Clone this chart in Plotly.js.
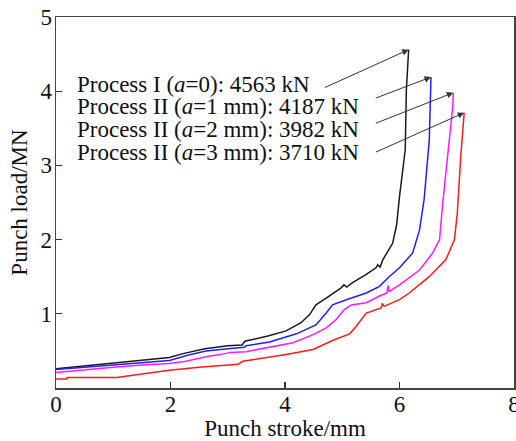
<!DOCTYPE html>
<html>
<head>
<meta charset="utf-8">
<script src="https://cdn.plot.ly/plotly-3.0.1.min.js"></script>
<style>html,body{margin:0;padding:0;background:#fff;}#chart{width:516px;height:441px;}</style>
</head>
<body>
<div id="chart"></div>
<script>
// Process I (a=0)
const strokeA0 = [0, 0.5, 1.0, 1.5, 1.98, 2.2, 2.6, 3.0, 3.25, 3.30, 3.41, 3.70, 4.02, 4.28, 4.43, 4.54, 4.72, 4.98, 5.03, 5.08, 5.18, 5.42, 5.59, 5.62, 5.66, 5.71, 5.88, 5.95, 6.00, 6.06, 6.10, 6.12, 6.16];
const loadA0   = [0.26, 0.30, 0.34, 0.38, 0.41, 0.46, 0.53, 0.57, 0.58, 0.63, 0.65, 0.70, 0.77, 0.88, 0.99, 1.12, 1.21, 1.35, 1.39, 1.36, 1.42, 1.53, 1.62, 1.66, 1.63, 1.73, 1.95, 2.20, 2.58, 2.99, 3.21, 4.02, 4.56];
// Process II (a=1 mm)
const strokeA1 = [0, 0.5, 1.0, 1.5, 1.98, 2.3, 2.62, 3.0, 3.29, 3.32, 3.73, 4.20, 4.54, 4.72, 4.83, 5.07, 5.42, 5.65, 5.82, 6.00, 6.23, 6.35, 6.43, 6.52, 6.55, 6.55];
const loadA1   = [0.25, 0.28, 0.32, 0.35, 0.37, 0.44, 0.50, 0.53, 0.55, 0.57, 0.62, 0.73, 0.85, 1.01, 1.12, 1.19, 1.28, 1.37, 1.50, 1.62, 1.82, 2.13, 2.54, 3.34, 4.02, 4.19];
// Process II (a=2 mm)
const strokeA2 = [0, 0.5, 1.0, 1.5, 1.98, 2.27, 2.62, 2.86, 3.05, 3.32, 3.73, 4.14, 4.49, 4.72, 4.89, 5.04, 5.16, 5.42, 5.65, 5.78, 5.80, 5.82, 6.00, 6.35, 6.58, 6.70, 6.75, 6.84, 6.93, 6.94];
const loadA2   = [0.21, 0.25, 0.28, 0.31, 0.33, 0.36, 0.42, 0.45, 0.48, 0.49, 0.55, 0.61, 0.72, 0.81, 0.92, 1.06, 1.12, 1.15, 1.24, 1.28, 1.38, 1.30, 1.39, 1.59, 1.82, 2.00, 2.45, 3.12, 3.79, 3.98];
// Process II (a=3 mm)
const strokeA3 = [0, 0.19, 0.20, 1.06, 1.5, 1.98, 2.5, 3.18, 3.26, 3.61, 4.02, 4.49, 4.83, 5.13, 5.24, 5.42, 5.68, 5.70, 5.73, 6.00, 6.17, 6.52, 6.81, 6.96, 7.01, 7.07, 7.13, 7.13];
const loadA3   = [0.12, 0.12, 0.14, 0.14, 0.19, 0.24, 0.28, 0.32, 0.36, 0.40, 0.45, 0.52, 0.64, 0.73, 0.83, 1.01, 1.08, 1.14, 1.10, 1.19, 1.28, 1.50, 1.73, 2.00, 2.36, 3.12, 3.66, 3.71];

const labels = [
  'Process I (<i>a</i>=0): 4563 kN',
  'Process II (<i>a</i>=1 mm): 4187 kN',
  'Process II (<i>a</i>=2 mm): 3982 kN',
  'Process II (<i>a</i>=3 mm): 3710 kN'
];
const xTicks = [0, 2, 4, 6, 8];
const yTicks = [1, 2, 3, 4, 5];

const colors = ['#1a1a1a', '#1f1fff', '#ff1aff', '#ff1a1a'];
const series = [[strokeA0, loadA0], [strokeA1, loadA1], [strokeA2, loadA2], [strokeA3, loadA3]];

const traces = series.map((s, i) => ({
  x: s[0], y: s[1], type: 'scatter', mode: 'lines',
  line: {color: colors[i], width: 1.5}, showlegend: false, hoverinfo: 'skip'
}));

const font = {family: '"Liberation Serif", "Times New Roman", serif', color: '#111'};
const textY = [4.085, 3.79, 3.48, 3.18];
const arrowTail = [[4.67, 4.04], [5.56, 3.90], [5.56, 3.56], [5.56, 3.17]];
const annotations = [];
labels.forEach((t, i) => {
  annotations.push({
    x: 0.34, y: textY[i], xref: 'x', yref: 'y', xanchor: 'left', yanchor: 'middle',
    text: t, showarrow: false, font: Object.assign({size: 23}, font)
  });
  const s = series[i];
  const n = s[0].length - 1;
  annotations.push({
    x: s[0][n], y: s[1][n], xref: 'x', yref: 'y',
    ax: arrowTail[i][0], ay: arrowTail[i][1], axref: 'x', ayref: 'y',
    text: '', showarrow: true, arrowhead: 2, arrowsize: 1.3, arrowwidth: 1,
    arrowcolor: '#333', standoff: 0, startstandoff: 0
  });
});

const layout = {
  width: 516, height: 441,
  margin: {l: 56, r: 2, t: 17, b: 53},
  paper_bgcolor: '#fff', plot_bgcolor: '#fff',
  font: Object.assign({size: 23}, font),
  xaxis: {
    range: [0, 8], tickvals: xTicks, ticks: 'inside', ticklen: 6, tickwidth: 1.2,
    tickcolor: '#333', showline: true, linecolor: '#444', linewidth: 1.5, mirror: true,
    showgrid: false, zeroline: false, tickfont: Object.assign({size: 23}, font),
    ticklabeloverflow: 'allow', ticklabelstandoff: -5,
    title: {text: 'Punch stroke/mm', font: Object.assign({size: 23}, font), standoff: 0}
  },
  yaxis: {
    range: [0, 5], tickvals: yTicks, ticks: 'inside', ticklen: 6, tickwidth: 1.2,
    tickcolor: '#333', showline: true, linecolor: '#444', linewidth: 1.5, mirror: true,
    showgrid: false, zeroline: false, tickfont: Object.assign({size: 23}, font),
    ticklabelstandoff: -2,
    title: {text: 'Punch load/MN', font: Object.assign({size: 23}, font), standoff: 6}
  },
  annotations: annotations
};

Plotly.newPlot('chart', traces, layout, {displayModeBar: false, staticPlot: true});
</script>
</body>
</html>
